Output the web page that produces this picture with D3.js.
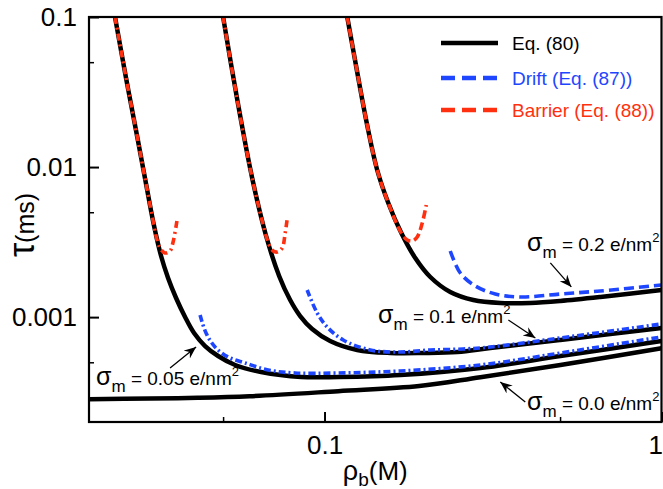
<!DOCTYPE html>
<html><head><meta charset="utf-8">
<script src="https://cdn.jsdelivr.net/npm/d3@7"></script>
<style>
body{margin:0;background:#fff}
svg{display:block}
text{font-family:"Liberation Sans",Arial,Helvetica,sans-serif}
</style>
</head><body>
<svg id="chart" width="663" height="489"></svg>
<script>
// ---------- data (rho_b in M, tau in ms) ----------
// Eq. (80)
const rho80_s000 = [0.02, 0.0303, 0.042, 0.0599, 0.1098, 0.191, 0.2901, 0.5012, 1];
const tau80_s000 = [2.84e-4, 2.87e-4, 2.9e-4, 2.97e-4, 3.21e-4, 3.47e-4, 3.98e-4, 4.79e-4, 6.21e-4];

const rho80_s005 = [0.02389, 0.02576, 0.02778, 0.02954, 0.0312, 0.03273, 0.03433, 0.03626, 0.03856, 0.041, 0.04421, 0.04833, 0.05428, 0.06484, 0.08526, 0.1098, 0.1678, 0.2901, 0.5012, 1];
const tau80_s005 = [0.1, 0.03923, 0.0161, 0.00771, 0.004047, 0.002555, 0.001823, 0.001341, 0.001002, 7.838e-4, 6.417e-4, 5.505e-4, 4.797e-4, 4.308e-4, 3.99e-4, 3.99e-4, 4.114e-4, 4.581e-4, 5.505e-4, 6.93e-4];

const rho80_s010 = [0.05, 0.05503, 0.06098, 0.06709, 0.07333, 0.07907, 0.08467, 0.09189, 0.1039, 0.125, 0.1567, 0.1963, 0.2477, 0.3105, 0.5012, 1];
const tau80_s010 = [0.1, 0.02842, 0.008455, 0.003472, 0.00188, 0.0013, 0.001017, 8.332e-4, 6.93e-4, 6.036e-4, 5.765e-4, 5.765e-4, 5.855e-4, 6.224e-4, 7.04e-4, 8.464e-4];

const rho80_s020 = [0.1168, 0.125, 0.1338, 0.1433, 0.1546, 0.169, 0.1859, 0.206, 0.2361, 0.2764, 0.3323, 0.4081, 0.5012, 0.6587, 1];
const tau80_s020 = [0.1, 0.04299, 0.01908, 0.00956, 0.005761, 0.003636, 0.002477, 0.001851, 0.00147, 0.0013, 0.001242, 0.001242, 0.001281, 0.001362, 0.001516];

// Drift, Eq. (87)
const rhoDrift_s005 = [0.04272, 0.0445, 0.04733, 0.05174, 0.05809, 0.068, 0.08177, 0.1098, 0.1678, 0.2901, 0.5012, 1];
const tauDrift_s005 = [0.001033, 7.838e-4, 6.32e-4, 5.422e-4, 4.946e-4, 4.442e-4, 4.242e-4, 4.242e-4, 4.374e-4, 4.797e-4, 5.765e-4, 7.37e-4];

const rhoDrift_s010 = [0.08881, 0.0951, 0.1018, 0.1136, 0.1367, 0.1678, 0.206, 0.2581, 0.3105, 0.5012, 1];
const tauDrift_s010 = [0.001516, 0.001065, 8.595e-4, 7.04e-4, 6.036e-4, 5.855e-4, 6.036e-4, 6.13e-4, 6.32e-4, 7.26e-4, 9.0e-4];

const rhoDrift_s020 = [0.2361, 0.2529, 0.2802, 0.3211, 0.3812, 0.5012, 0.6587, 1];
const tauDrift_s020 = [0.002759, 0.001968, 0.001612, 0.001426, 0.001362, 0.001426, 0.001493, 0.001637];

// Barrier, Eq. (88)
const rhoBarrier_s005 = [0.02389, 0.02576, 0.02778, 0.02954, 0.0312, 0.03184, 0.03249, 0.03362, 0.03479, 0.03553, 0.03651];
const tauBarrier_s005 = [0.1, 0.03923, 0.0161, 0.00771, 0.004047, 0.003266, 0.002888, 0.002675, 0.002759, 0.003167, 0.004438];

const rhoBarrier_s010 = [0.05, 0.05503, 0.06098, 0.06709, 0.06848, 0.07041, 0.07236, 0.07487, 0.07642, 0.07748];
const tauBarrier_s010 = [0.1, 0.02842, 0.008455, 0.003472, 0.003024, 0.002759, 0.002716, 0.002888, 0.003636, 0.004507];

const rhoBarrier_s020 = [0.1168, 0.125, 0.1338, 0.1433, 0.1546, 0.169, 0.176, 0.1821, 0.1884, 0.195, 0.2004];
const tauBarrier_s020 = [0.1, 0.04299, 0.01908, 0.00956, 0.005761, 0.003636, 0.003266, 0.003216, 0.00342, 0.004239, 0.005588];

// axes ticks
const xMajorTicks = [0.1, 1];
const xMajorLabels = ["0.1", "1"];
const xMinorTicks = [0.05, 0.5];
const yMajorTicks = [0.1, 0.01, 0.001];
const yMajorLabels = ["0.1", "0.01", "0.001"];
const yMinorTicks = [0.05, 0.005, 0.0005];

// legend
const legendLabels = ["Eq. (80)", "Drift (Eq. (87))", "Barrier (Eq. (88))"];

// annotations: sigma values and arrow tip (data coords)
const annoSigma = ["0.2", "0.1", "0.05", "0.0"];
const annoTipRho = [0.54, 0.4223, 0.04157, 0.3323];
const annoTipTau = [0.00159, 7.26e-4, 6.32e-4, 3.695e-4];

// ---------- drawing ----------
const BLACK = "#000", BLUE = "#1e46ff", RED = "#ff3010";
const svg = d3.select("#chart");
const L = 89, R = 661.5, T = 17, B = 422;
const x = d3.scaleLog().domain([0.02, 1]).range([L, R]);
const y = d3.scaleLog().domain([2e-4, 0.1]).range([B, T]);

svg.append("defs").append("clipPath").attr("id", "clip")
  .append("rect").attr("x", L).attr("y", T).attr("width", R - L).attr("height", B - T);

const zip = (a, b) => a.map((v, i) => [v, b[i]]);
const line = d3.line().x(d => x(d[0])).y(d => y(d[1])).curve(d3.curveCatmullRom.alpha(0.5));

const DASH = "10,5", DASHDOT = "7,3,2,3", RDASH = "8,4", RDASHDOT = "7,4,2,4";
const series = [
  {r: rho80_s000, t: tau80_s000, c: BLACK, w: 4.5, d: null},
  {r: rho80_s005, t: tau80_s005, c: BLACK, w: 4.5, d: null},
  {r: rho80_s010, t: tau80_s010, c: BLACK, w: 4.5, d: null},
  {r: rho80_s020, t: tau80_s020, c: BLACK, w: 4.5, d: null},
  {r: rhoDrift_s005, t: tauDrift_s005, c: BLUE, w: 3.6, d: DASHDOT},
  {r: rhoDrift_s010, t: tauDrift_s010, c: BLUE, w: 3.6, d: DASHDOT},
  {r: rhoDrift_s020, t: tauDrift_s020, c: BLUE, w: 3.6, d: DASH},
  {r: rhoBarrier_s005, t: tauBarrier_s005, c: RED, w: 3.6, d: RDASHDOT},
  {r: rhoBarrier_s010, t: tauBarrier_s010, c: RED, w: 3.6, d: RDASHDOT},
  {r: rhoBarrier_s020, t: tauBarrier_s020, c: RED, w: 3.6, d: RDASH}
];

const plot = svg.append("g").attr("clip-path", "url(#clip)");
plot.selectAll("path.series").data(series).join("path")
  .attr("class", "series")
  .attr("d", s => line(zip(s.r, s.t)))
  .attr("fill", "none")
  .attr("stroke", s => s.c)
  .attr("stroke-width", s => s.w)
  .attr("stroke-dasharray", s => s.d)
  .attr("stroke-linecap", "butt");

// axes
const fontSize = 26;
const gx = svg.append("g").attr("transform", `translate(0,${B})`)
  .call(d3.axisBottom(x).tickValues(xMajorTicks).tickFormat((d, i) => xMajorLabels[i]).tickSizeInner(-10).tickSizeOuter(0).tickPadding(14));
gx.select(".domain").remove();
gx.selectAll("line").attr("stroke", "#000").attr("stroke-width", 2);
gx.selectAll("text").attr("font-size", fontSize).attr("fill", "#000")
  .attr("font-family", '"Liberation Sans",Arial,sans-serif');
gx.selectAll(".tick").filter(d => d === 1).select("text").attr("text-anchor", "end").attr("x", 1);

const gxm = svg.append("g").attr("transform", `translate(0,${B})`)
  .call(d3.axisBottom(x).tickValues(xMinorTicks).tickFormat("").tickSizeInner(-5).tickSizeOuter(0));
gxm.select(".domain").remove();
gxm.selectAll("line").attr("stroke", "#000").attr("stroke-width", 1.5);

const gy = svg.append("g").attr("transform", `translate(${L},0)`)
  .call(d3.axisLeft(y).tickValues(yMajorTicks).tickFormat((d, i) => yMajorLabels[i]).tickSizeInner(-10).tickSizeOuter(0).tickPadding(12));
gy.select(".domain").remove();
gy.selectAll("line").attr("stroke", "#000").attr("stroke-width", 2);
gy.selectAll("text").attr("font-size", fontSize).attr("fill", "#000")
  .attr("font-family", '"Liberation Sans",Arial,sans-serif');

const gym = svg.append("g").attr("transform", `translate(${L},0)`)
  .call(d3.axisLeft(y).tickValues(yMinorTicks).tickFormat("").tickSizeInner(-5).tickSizeOuter(0));
gym.select(".domain").remove();
gym.selectAll("line").attr("stroke", "#000").attr("stroke-width", 1.5);

// frame
svg.append("rect").attr("x", L).attr("y", T).attr("width", R - L).attr("height", B - T)
  .attr("fill", "none").attr("stroke", "#000").attr("stroke-width", 2.2);

// axis titles
const xt = svg.append("text").attr("x", (L + R) / 2).attr("y", 480).attr("text-anchor", "middle").attr("fill", "#000");
xt.append("tspan").attr("font-size", 27).text("ρ");
xt.append("tspan").attr("font-size", 19).attr("dy", 6).text("b");
xt.append("tspan").attr("font-size", 26).attr("dy", -6).text("(M)");

const yt = svg.append("text").attr("transform", `translate(34,225) rotate(-90)`)
  .attr("text-anchor", "middle").attr("fill", "#000");
yt.append("tspan").attr("font-size", 36).text("τ");
yt.append("tspan").attr("font-size", 25).text("(ms)");

// legend
const legStyles = [{c: BLACK, d: null}, {c: BLUE, d: "14,7"}, {c: RED, d: "14,7"}];
const legY = [43, 78, 110];
legendLabels.forEach((lab, i) => {
  svg.append("line").attr("x1", 441).attr("x2", 498).attr("y1", legY[i]).attr("y2", legY[i])
    .attr("stroke", legStyles[i].c).attr("stroke-width", 4.5).attr("stroke-dasharray", legStyles[i].d);
  svg.append("text").attr("x", 512).attr("y", legY[i] + 7).attr("font-size", 19)
    .attr("fill", legStyles[i].c).text(lab);
});

// annotations
svg.append("defs").append("marker").attr("id", "arr")
  .attr("markerUnits", "userSpaceOnUse").attr("markerWidth", 14).attr("markerHeight", 14)
  .attr("refX", 12).attr("refY", 5).attr("orient", "auto")
  .append("path").attr("d", "M0,0 L12,5 L0,10 L4,5 Z").attr("fill", "#000");

const annoTail = [[-21, -24], [-27, -18], [-26, 21], [25, 20]];
const annoText = [[527, 251], [378, 323], [96, 385], [527, 410]];
annoSigma.forEach((s, i) => {
  const tx = x(annoTipRho[i]), ty = y(annoTipTau[i]);
  svg.append("line").attr("x1", tx + annoTail[i][0]).attr("y1", ty + annoTail[i][1])
    .attr("x2", tx).attr("y2", ty).attr("stroke", "#000").attr("stroke-width", 1.3)
    .attr("marker-end", "url(#arr)");
  const t = svg.append("text").attr("x", annoText[i][0]).attr("y", annoText[i][1]).attr("fill", "#000");
  t.append("tspan").attr("font-size", 25).text("σ");
  t.append("tspan").attr("font-size", 17).attr("dy", 7).text("m");
  t.append("tspan").attr("font-size", 19).attr("dy", -7).text(" = " + s + " e/nm");
  t.append("tspan").attr("font-size", 13).attr("dy", -9).text("2");
});
</script>
</body></html>
